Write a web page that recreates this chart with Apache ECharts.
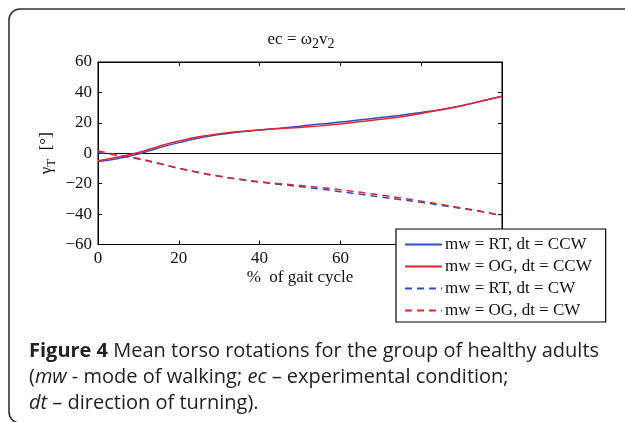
<!DOCTYPE html>
<html>
<head>
<meta charset="utf-8">
<script src="https://cdn.jsdelivr.net/npm/echarts@6/dist/echarts.min.js"></script>
<style>html,body{margin:0;padding:0;background:#fff;}#c{width:625px;height:422px;}</style>
</head>
<body>
<div id="c"></div>
<script>
// ---- data ----
const gaitPct = [0,5,10,15,20,25,30,35,40,45,50,55,60,65,70,75,80,85,90,95,100];
const rtCCW = [-5.5,-3.5,-0.5,3.5,7,10,12.3,14,15.3,16.5,17.8,19.2,20.5,22,23.5,25,26.8,28.8,31.3,34.3,37.5];
const ogCCW = [-5,-2.5,0.5,4.5,8,10.8,12.8,14.3,15.3,16.2,17,18,19.3,20.8,22.3,24,26.2,28.6,31.2,34.3,37.5];
const rtCW  = [0.5,-1.5,-3.8,-6.8,-10,-12.8,-15.2,-17.3,-19,-20.5,-22,-23.5,-25.3,-27,-28.8,-30.5,-32.3,-34.3,-36.3,-38.5,-41];
const ogCW  = [1.5,-1,-3.5,-6.5,-9.8,-12.5,-15,-17,-18.7,-20,-21.2,-22.5,-24,-25.7,-27.5,-29.5,-31.5,-33.7,-36,-38.3,-41];
const seriesNames = ['mw = RT, dt = CCW','mw = OG, dt = CCW','mw = RT, dt = CW','mw = OG, dt = CW'];
const xTicks = {min:0, max:100, interval:20};
const yTicks = {min:-60, max:60, interval:20};

const BLUE = '#2f4fc6', RED = '#ec2228';
const SERIF = '"Liberation Serif","DejaVu Serif",serif';
const SANS = '"Open Sans","Noto Sans",sans-serif';
const pair = (ys) => gaitPct.map((x,i)=>[x, ys[i]]);
const minus = v => String(v).replace('-', '\u2212');

const chart = echarts.init(document.getElementById('c'), null, {renderer:'canvas'});
function mk(name, ys, color, dashed, extra){
  return Object.assign({
    name, type:'line', data: pair(ys), symbol:'none', smooth:true, z:3,
    lineStyle:{color, width:1.5, type: dashed ? [7,5] : 'solid'},
    itemStyle:{color}
  }, extra||{});
}
const tick = () => ({show:true, inside:true, length:4, lineStyle:{color:'#000', width:1}});
const axLine = () => ({show:true, onZero:false, lineStyle:{color:'#000', width:1}});
chart.setOption({
  animation:false,
  backgroundColor:'#fff',
  title:[
    {text:'ec = \u03c9{s|2}v{s|2}', left:296, top:23, textAlign:'center',
     textStyle:{fontFamily:SERIF, fontSize:17, fontWeight:'normal', color:'#111',
       rich:{s:{fontFamily:SERIF, fontSize:14, color:'#111', padding:[9,0,0,0]}}}},
    {text:'{b|Figure 4} Mean torso rotations for the group of healthy adults\n({i|mw} - mode of walking; {i|ec} \u2013 experimental condition;\n{i|dt} \u2013 direction of turning).',
     left:24, top:333,
     textStyle:{fontFamily:SANS, fontSize:20, fontWeight:'normal', color:'#222', lineHeight:26,
       rich:{b:{fontFamily:SANS, fontSize:20, fontWeight:'bold', color:'#222', lineHeight:26},
             i:{fontFamily:SANS, fontSize:20, fontStyle:'italic', color:'#222', lineHeight:26}}}}
  ],
  graphic:[
    {type:'rect', shape:{x:9, y:9, width:700, height:414, r:11}, silent:true, z:-1,
     style:{fill:'none', stroke:'#333', lineWidth:1.6}}
  ],
  grid:{left:98, right:123, top:62, bottom:177.5, show:true, borderColor:'#000', borderWidth:1, backgroundColor:'transparent'},
  legend:{
    orient:'vertical', left:396, top:229, data:seriesNames,
    backgroundColor:'#fff', borderColor:'#000', borderWidth:1.2, borderRadius:0,
    padding:[7,14,3,8], itemGap:5, itemWidth:37, itemHeight:17,
    itemStyle:{opacity:0},
    textStyle:{fontFamily:SERIF, fontSize:17, color:'#111', lineHeight:17, padding:[0,0,0,-2]},
    z:10
  },
  xAxis:[
    {type:'value', min:xTicks.min, max:xTicks.max, interval:xTicks.interval, position:'bottom',
     name:'%  of gait cycle', nameLocation:'middle', nameGap:25,
     nameTextStyle:{fontFamily:SERIF, fontSize:17, color:'#111'},
     axisLine:axLine(), axisTick:tick(), splitLine:{show:false},
     axisLabel:{fontFamily:SERIF, fontSize:17, color:'#111', margin:6}},
    {type:'value', min:xTicks.min, max:xTicks.max, interval:xTicks.interval, position:'top',
     axisLine:axLine(), axisTick:tick(), splitLine:{show:false}, axisLabel:{show:false}}
  ],
  yAxis:[
    {type:'value', min:yTicks.min, max:yTicks.max, interval:yTicks.interval, position:'left',
     name:'\u03b3{s|T}  [\u00b0]', nameLocation:'middle', nameGap:40, nameRotate:90, nameMoveOverlap:false,
     nameTextStyle:{fontFamily:SERIF, fontSize:17, color:'#111',
       rich:{s:{fontFamily:SERIF, fontSize:13, color:'#111', padding:[10,0,0,0]}}},
     axisLine:axLine(), axisTick:tick(), splitLine:{show:false},
     axisLabel:{fontFamily:SERIF, fontSize:17, color:'#111', margin:6, formatter:minus}},
    {type:'value', min:yTicks.min, max:yTicks.max, interval:yTicks.interval, position:'right',
     axisLine:axLine(), axisTick:tick(), splitLine:{show:false}, axisLabel:{show:false}}
  ],
  series:[
    mk(seriesNames[0], rtCCW, BLUE, false, {
      markLine:{silent:true, symbol:'none', label:{show:false}, z:1,
        lineStyle:{color:'#000', width:1, type:'solid'}, data:[{yAxis:0}]}}),
    mk(seriesNames[1], ogCCW, RED, false),
    mk(seriesNames[2], rtCW, BLUE, true),
    mk(seriesNames[3], ogCW, RED, true)
  ]
});
</script>
</body>
</html>
